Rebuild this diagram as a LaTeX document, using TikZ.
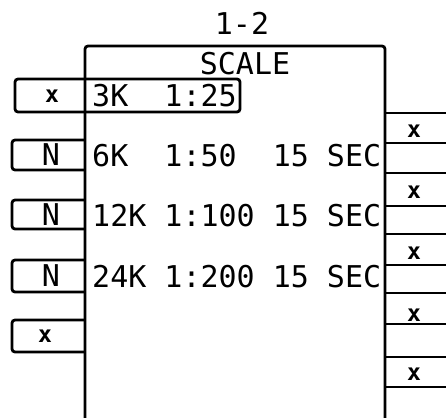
\documentclass[tikz,border=0pt]{standalone}
\usepackage{fontspec}
\newfontfamily\plotfont{DejaVu Sans Mono}
\usetikzlibrary{positioning}
\tikzset{
plottext/.style={
font=\plotfont\fontsize{30}{30}\selectfont,
inner sep=0pt,
anchor=west
},
xsign/.style={
font=\plotfont\bfseries\fontsize{23}{23}\selectfont,
inner sep=0pt
},
frame/.style={
line width=2.8pt,
rounded corners=3pt
}
}

\begin{document}
\begin{tikzpicture}[x=1pt,y=-1pt]

\useasboundingbox (0,0) rectangle (446,417);
\clip (0,0) rectangle (446,417);

% main panel
\coordinate (tl) at (85,46);
\coordinate (tr) at (385,46);
\draw[frame] (85,430) -- (tl) -- (tr) -- (385,430);

\node[plottext,anchor=center] (title) at (242,23) {1-2};
\node[plottext,anchor=center] (scale) at (245,64) {SCALE};

% selected row
\draw[frame] (15,79) rectangle (240,112);
\node[xsign] (x0) at (52,96) {x};
\node[plottext] (r1) at (92,96) {3K\ \ 1:25};

\node[plottext] (r2) at (92,156) {6K\ \ 1:50\ \ 15 SEC};
\node[plottext] (r3) at (92,216) {12K 1:100 15 SEC};
\node[plottext] (r4) at (92,277) {24K 1:200 15 SEC};

% left keys
\foreach \t/\b/\s [count=\i] in {140/170/N,200/229/N,260/292/N}{
\draw[frame] (85,\t) -- (12,\t) -- (12,\b) -- (85,\b);
\node[plottext,anchor=center] (k\i) at (51,{(\t+\b)/2}) {\s};
}
\draw[frame] (85,320) -- (12,320) -- (12,352) -- (85,352);
\node[xsign] (k4) at (45,336) {x};

% right keys
\foreach \t/\b/\c [count=\i] in {113/143/131,173/206/192,234/265/253,293/324/315,357/387/374}{
\draw[frame] (450,\t) -- (385,\t);
\draw[frame] (385,\b) -- (450,\b);
\node[xsign] (s\i) at (414,\c) {x};
}

\end{tikzpicture}
\end{document}
